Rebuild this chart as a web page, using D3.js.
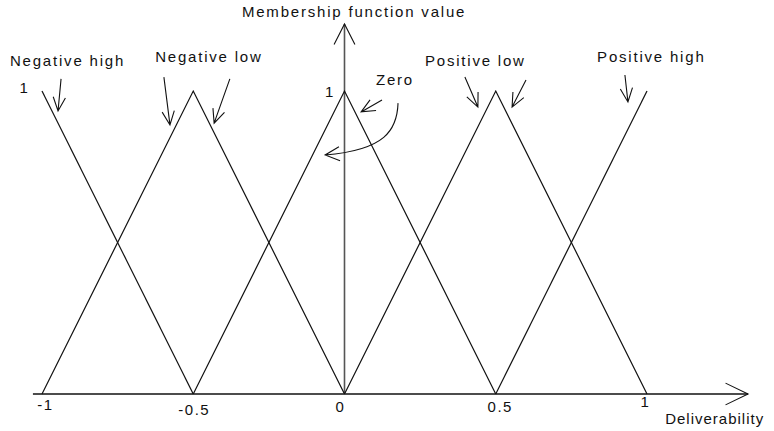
<!DOCTYPE html>
<html>
<head>
<meta charset="utf-8">
<script src="https://cdn.jsdelivr.net/npm/d3@7"></script>
<style>
  html, body { margin: 0; padding: 0; background: #fff; }
  svg { display: block; font-family: "Liberation Sans", Arial, sans-serif; }
  text { fill: #111; letter-spacing: 1.5px; }
  text.name { letter-spacing: 1.8px; }
  text.xtitle { letter-spacing: 1px; }
</style>
</head>
<body>
<svg id="chart" width="774" height="431"></svg>
<script>
// Fuzzy sets on the deliverability axis: triangular membership functions
const categories = ["Negative high", "Negative low", "Zero", "Positive low", "Positive high"];
const peaks = [-1, -0.5, 0, 0.5, 1];
const halfWidth = 0.5;

// Axis ticks
const tickValues = [-1, -0.5, 0, 0.5, 1];
const tickLabels = ["-1", "-0.5", "0", "0.5", "1"];

// Annotation anchors (data units): set-name labels and the arrows pointing at each set
const labelPos = [[-1.106, 1.083], [-0.626, 1.096], [0.104, 1.020], [0.266, 1.083], [0.835, 1.096]];
const arrowFrom = [[-0.937, 1.040], [-0.597, 1.046], [-0.379, 1.040], [0.124, 0.970], [0.398, 1.046], [0.600, 1.036], [0.927, 1.053]];
const arrowTo   = [[-0.947, 0.934], [-0.577, 0.888], [-0.431, 0.894], [0.055, 0.931], [0.441, 0.947], [0.554, 0.947], [0.937, 0.964]];
// curved arrow next to the zero set (cubic: start, c1, c2, end)
const curvePts = [[0.177, 0.960], [0.174, 0.871], [0.134, 0.805], [-0.064, 0.789]];

const svg = d3.select("#chart");
const x = d3.scaleLinear().domain([-1, 1]).range([42, 647]);
const y = d3.scaleLinear().domain([0, 1]).range([394, 91]);

const ink = "#111";

// arrow head: two barbs at the tip, opening back along the direction of travel
function barbs(tx, ty, fx, fy, len, ang) {
  const a = Math.atan2(ty - fy, tx - fx);
  const p1 = [tx - len * Math.cos(a - ang), ty - len * Math.sin(a - ang)];
  const p2 = [tx - len * Math.cos(a + ang), ty - len * Math.sin(a + ang)];
  return `M${p1[0]},${p1[1]}L${tx},${ty}L${p2[0]},${p2[1]}`;
}

// x axis with open arrow head
const xEnd = 1.334, xStart = -1.03;
svg.append("line")
  .attr("x1", x(xStart)).attr("x2", x(xEnd))
  .attr("y1", y(0)).attr("y2", y(0))
  .attr("stroke", ink).attr("stroke-width", 1.3);
svg.append("path")
  .attr("d", barbs(x(xEnd), y(0), x(xStart), y(0), 25, 0.45))
  .attr("fill", "none").attr("stroke", ink).attr("stroke-width", 1.1);

// y axis with open arrow head
const yEnd = 1.221;
svg.append("line")
  .attr("x1", x(0)).attr("x2", x(0))
  .attr("y1", y(0)).attr("y2", y(yEnd))
  .attr("stroke", "#555").attr("stroke-width", 1.6);
svg.append("path")
  .attr("d", barbs(x(0), y(yEnd), x(0), y(0), 23, 0.47))
  .attr("fill", "none").attr("stroke", ink).attr("stroke-width", 1.1);

// triangular membership functions, clipped to the [-1, 1] universe
const line = d3.line().x(d => x(d[0])).y(d => y(d[1]));
peaks.forEach(c => {
  const pts = [[c - halfWidth, 0], [c, 1], [c + halfWidth, 0]]
    .filter(p => p[0] >= -1 - 1e-9 && p[0] <= 1 + 1e-9);
  svg.append("path")
    .attr("d", line(pts))
    .attr("fill", "none").attr("stroke", ink).attr("stroke-width", 1.2);
});

// tick labels under the x axis
const tickNudge = [[3.5, 16], [1, 21], [-4, 18], [4.5, 18], [-1.5, 13]];
svg.append("g").selectAll("text")
  .data(tickValues)
  .join("text")
  .attr("x", (d, i) => x(d) + tickNudge[i][0])
  .attr("y", (d, i) => y(0) + tickNudge[i][1])
  .attr("text-anchor", "middle")
  .attr("font-size", 15)
  .text((d, i) => tickLabels[i]);

// "1" marks at the peak height
svg.append("text").attr("x", x(-1.058)).attr("y", y(0.993))
  .attr("text-anchor", "middle").attr("font-size", 15).text("1");
svg.append("text").attr("x", x(-0.048)).attr("y", y(0.980))
  .attr("text-anchor", "middle").attr("font-size", 15).text("1");

// axis titles
svg.append("text").attr("class", "name").attr("x", x(-0.339)).attr("y", y(1.244))
  .attr("font-size", 15).text("Membership function value");
svg.append("text").attr("class", "xtitle").attr("x", x(1.060)).attr("y", y(-0.099))
  .attr("font-size", 15).text("Deliverability");

// set names
svg.append("g").selectAll("text")
  .data(categories)
  .join("text")
  .attr("class", "name")
  .attr("x", (d, i) => x(labelPos[i][0]))
  .attr("y", (d, i) => y(labelPos[i][1]))
  .attr("font-size", 15)
  .text(d => d);

// straight pointer arrows
arrowFrom.forEach((f, i) => {
  const t = arrowTo[i];
  const fx = x(f[0]), fy = y(f[1]), tx = x(t[0]), ty = y(t[1]);
  svg.append("path")
    .attr("d", `M${fx},${fy}L${tx},${ty}` + barbs(tx, ty, fx, fy, 15, 0.42))
    .attr("fill", "none").attr("stroke", ink).attr("stroke-width", 1.1);
});

// curved arrow sweeping across the zero peak
const cp = curvePts.map(p => [x(p[0]), y(p[1])]);
svg.append("path")
  .attr("d", `M${cp[0][0]},${cp[0][1]}C${cp[1][0]},${cp[1][1]} ${cp[2][0]},${cp[2][1]} ${cp[3][0]},${cp[3][1]}`
    + barbs(cp[3][0], cp[3][1], cp[2][0], cp[2][1], 16, 0.45))
  .attr("fill", "none").attr("stroke", ink).attr("stroke-width", 1.1);
</script>
</body>
</html>
